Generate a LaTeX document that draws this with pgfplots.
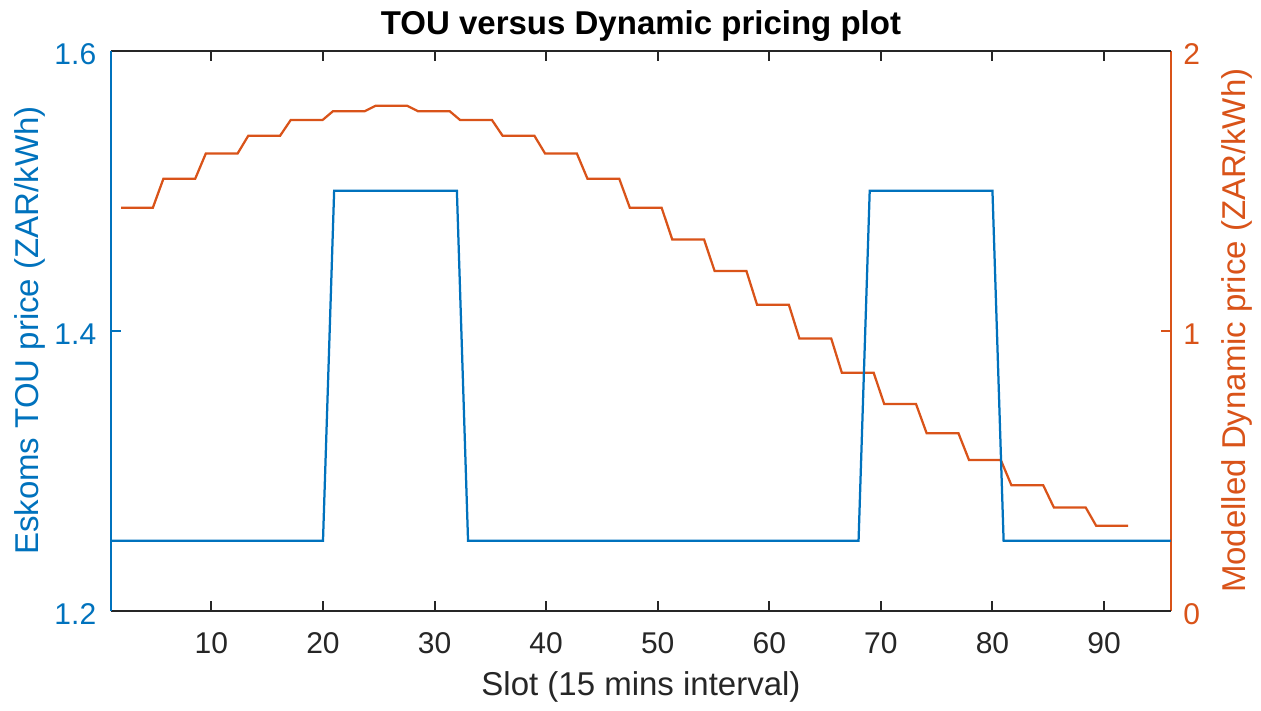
\documentclass[border=0pt]{standalone}
\usepackage{fontspec}
\setmainfont{Liberation Sans}
\usepackage{pgfplots}
\pgfplotsset{compat=1.18}
\definecolor{mblue}{RGB}{0,114,189}
\definecolor{morange}{RGB}{217,83,25}
\definecolor{mgray}{RGB}{38,38,38}
\begin{document}
\begin{tikzpicture}
\pgfplotsset{
  every axis/.append style={
    width=353.33pt, height=186.67pt, scale only axis,
    xmin=1, xmax=96,
    /pgf/number format/assume math mode=true,
    tick label style={font=\fontsize{10}{12}\selectfont},
    major tick length=3.3pt,
    clip=false,
  }
}
% right axis (orange), drawn first so the blue line lies on top
\begin{axis}[
  name=ax,
  axis x line=none, axis y line*=right,
  ymin=0, ymax=2, ytick={0,1,2}, ytick pos=right,
  y axis line style={-, morange, line width=0.65pt},
  ytick style={morange, line width=0.65pt},
  yticklabel style={color=morange, xshift=0.6pt, yshift=-1pt},
  every axis y label/.style={at={(axis description cs:1.0618,0.5)}, anchor=center, rotate=90, color=morange, font=\fontsize{11}{13}\selectfont},
  ylabel={Modelled Dynamic price (ZAR/kWh)},
]
\addplot[morange, line width=0.75pt] coordinates {
(1.90,1.439) (4.75,1.439)
(5.70,1.543) (8.55,1.543)
(9.50,1.633) (12.35,1.633)
(13.30,1.696) (16.15,1.696)
(17.10,1.752) (19.95,1.752)
(20.90,1.784) (23.75,1.784)
(24.70,1.803) (27.55,1.803)
(28.50,1.784) (31.35,1.784)
(32.30,1.752) (35.15,1.752)
(36.10,1.696) (38.95,1.696)
(39.90,1.633) (42.75,1.633)
(43.70,1.543) (46.55,1.543)
(47.50,1.439) (50.35,1.439)
(51.30,1.326) (54.15,1.326)
(55.10,1.213) (57.95,1.213)
(58.90,1.093) (61.75,1.093)
(62.70,0.972) (65.55,0.972)
(66.50,0.850) (69.35,0.850)
(70.30,0.738) (73.15,0.738)
(74.10,0.634) (76.95,0.634)
(77.90,0.538) (80.75,0.538)
(81.70,0.448) (84.55,0.448)
(85.50,0.369) (88.35,0.369)
(89.30,0.303) (92.15,0.303)
};
\end{axis}
% left axis (blue) with the box
\begin{axis}[
  axis x line*=box, axis y line*=left,
  ymin=1.2, ymax=1.6, ytick={1.2,1.4,1.6}, ytick pos=left,
  xtick={10,20,...,90}, xtick pos=both,
  x axis line style={-, mgray, line width=0.65pt},
  xtick style={mgray, line width=0.65pt},
  xticklabel style={color=mgray, yshift=-3.7pt},
  y axis line style={-, mblue, line width=0.65pt},
  ytick style={mblue, line width=0.65pt},
  yticklabel style={color=mblue, xshift=-1.4pt, yshift=-1pt,
    /pgf/number format/fixed, /pgf/number format/precision=1, /pgf/number format/fixed zerofill},
  every axis y label/.style={at={(axis description cs:-0.0764,0.5)}, anchor=center, rotate=90, color=mblue, font=\fontsize{11}{13}\selectfont},
  ylabel={Eskoms TOU price (ZAR/kWh)},
  every axis x label/.style={at={(axis description cs:0.5,-0.1355)}, anchor=center, color=mgray, font=\fontsize{11}{13}\selectfont},
  xlabel={Slot (15 mins interval)},
  every axis title/.style={at={(axis description cs:0.5,1.044)}, anchor=center, color=black, font=\bfseries\fontsize{11}{13}\selectfont},
  title={TOU versus Dynamic pricing plot},
]
\addplot[mblue, line width=0.75pt] coordinates {
(1,1.25) (20,1.25) (21,1.5) (32,1.5) (33,1.25) (68,1.25) (69,1.5) (80,1.5) (81,1.25) (96,1.25)
};
\end{axis}
\pgfresetboundingbox
\path[use as bounding box] (ax.south west) ++(-37pt,-33.43pt) rectangle ++(420.33pt,237pt);
\end{tikzpicture}
\end{document}
